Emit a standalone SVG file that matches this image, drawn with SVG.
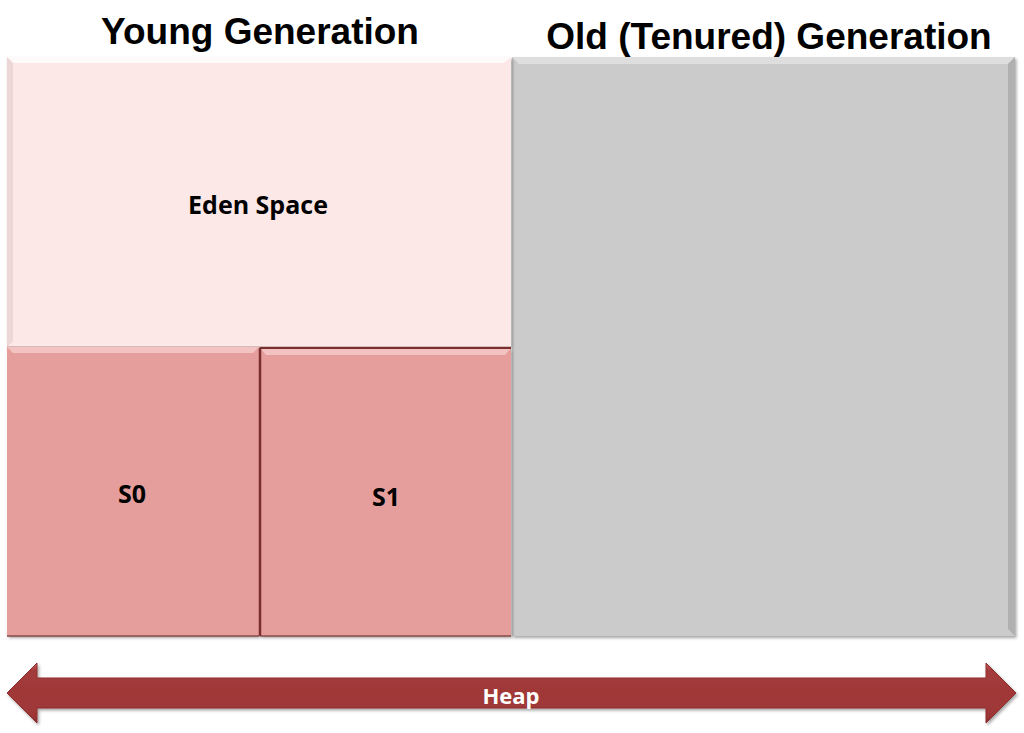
<svg xmlns="http://www.w3.org/2000/svg" width="1024" height="733" viewBox="0 0 1024 733">
<style>
.title{font-family:"Liberation Sans",Arial,sans-serif;font-weight:bold;font-size:37px;fill:#000;text-anchor:middle}
.lbl{font-family:"Open Sans","Liberation Sans",sans-serif;font-weight:bold;font-size:25px;fill:#000;text-anchor:middle}
.heap{font-family:"Open Sans","Liberation Sans",sans-serif;font-weight:bold;font-size:22px;fill:#fff;text-anchor:middle}
</style>
<defs>
<filter id="sh" x="-5%" y="-5%" width="110%" height="110%">
<feDropShadow dx="1.5" dy="2" stdDeviation="1.5" flood-color="#000" flood-opacity="0.35"/>
</filter>
<linearGradient id="arrowG" x1="0" y1="0" x2="0" y2="1">
<stop offset="0" stop-color="#c86060"/>
<stop offset="0.12" stop-color="#a33b3b"/>
<stop offset="0.9" stop-color="#9e3636"/>
<stop offset="1" stop-color="#7e2626"/>
</linearGradient>
</defs>
<rect width="1024" height="733" fill="#fff"/>
<text class="title" x="260" y="44">Young Generation</text>
<text class="title" x="769" y="49">Old (Tenured) Generation</text>

<g id="old">
<rect x="512" y="57" width="503" height="579" fill="#cbcbcb" filter="url(#sh)"/>
<path d="M512 57 H1015 L1008 64 H519 Z" fill="#dedede"/>
<path d="M1015 57 V636 L1008 629 V64 Z" fill="#b0b0b0"/>
</g>

<g id="eden">
<rect x="7" y="57" width="504" height="290" fill="#fde8e8" filter="url(#sh)"/>
<path d="M7 57 H511 L504 63 H13 Z" fill="#fffafa"/>
<path d="M7 57 V347 L13 341 V63 Z" fill="#ecd6d6"/>
<line x1="7" y1="347" x2="511" y2="347" stroke="#b09090" stroke-width="1"/>
<text class="lbl" x="258" y="214">Eden Space</text>
</g>

<g id="s0">
<rect x="7" y="347" width="252" height="289" fill="#e59e9b" filter="url(#sh)"/>
<path d="M7 347 H259 L253 353 H13 Z" fill="#f3c3c1"/>
<line x1="7" y1="636" x2="259" y2="636" stroke="#8a4a48" stroke-width="1.5"/>
<text class="lbl" x="132" y="503">S0</text>
</g>

<g id="s1">
<rect x="260" y="348" width="251" height="288" fill="#e59e9b" filter="url(#sh)"/>
<path d="M260 348 H511 L505 355 H266 Z" fill="#f3c3c1"/>
<line x1="260" y1="348" x2="511" y2="348" stroke="#7a2e2e" stroke-width="2"/>
<line x1="260" y1="348" x2="260" y2="636" stroke="#7a2e2e" stroke-width="2.5"/>
<line x1="260" y1="636" x2="511" y2="636" stroke="#8a4a48" stroke-width="1.5"/>
<text class="lbl" x="386" y="506">S1</text>
</g>

<g id="heap">
<path d="M7 693 L37 663 V678 H986 V663 L1016 693 L986 723 V708 H37 V723 Z" fill="url(#arrowG)" stroke="#8e2e2e" stroke-width="1" filter="url(#sh)"/>
<text class="heap" x="511" y="704">Heap</text>
</g>
</svg>
